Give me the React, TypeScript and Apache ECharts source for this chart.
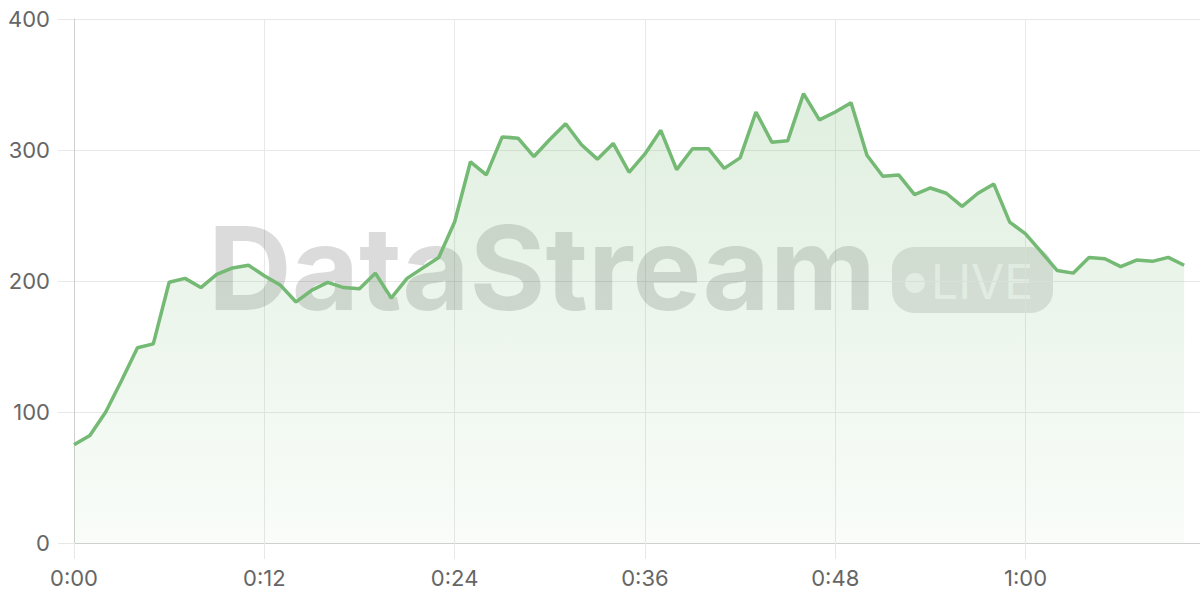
import { useEffect, useRef } from 'react';
import * as echarts from 'echarts';
import type { EChartsOption } from 'echarts';

// one reading per minute, 0:00 .. 1:10
const viewers = [
    75, 82, 100, 124, 149, 152, 199, 202, 195, 205,
    210, 212, 204, 197, 184, 193, 199, 195, 194, 206,
    187, 202, 210, 218, 245, 291, 281, 310, 309, 295,
    308, 320, 304, 293, 305, 283, 297, 315, 285, 301,
    301, 286, 294, 329, 306, 307, 343, 323, 329, 336,
    296, 280, 281, 266, 271, 267, 257, 267, 274, 245,
    236, 222, 208, 206, 218, 217, 211, 216, 215, 218,
    212
];

const X_MAX = 71;
const X_STEP = 12;
const Y_TICKS = [0, 100, 200, 300, 400];

const LINE_COLOR = '#74b974';
const GRID_COLOR = '#e8e8e8';
const AXIS_COLOR = '#cfcfcf';
const LABEL_COLOR = '#666';
const FONT = 'Inter, "Noto Sans", sans-serif';

const fmtMinute = (m: number) => {
    if (m % X_STEP !== 0) return '';
    const h = Math.floor(m / 60);
    const mm = m % 60;
    return `${h}:${mm < 10 ? '0' + mm : mm}`;
};

const App = () => {
    const chartRef = useRef<HTMLDivElement>(null);

    useEffect(() => {
        document.body.style.margin = '0';
        if (!chartRef.current) return;
        const chart = echarts.init(chartRef.current, undefined, { renderer: 'svg' });

        const option: EChartsOption = {
            animation: false,
            grid: { left: 74, right: 0, top: 19, bottom: 57 },
            xAxis: {
                type: 'value',
                min: 0,
                max: X_MAX,
                interval: X_STEP,
                axisLine: { show: true, lineStyle: { color: AXIS_COLOR, width: 1 } },
                axisTick: { show: true, length: 16, lineStyle: { color: GRID_COLOR } },
                splitLine: { show: true, lineStyle: { color: GRID_COLOR } },
                axisLabel: {
                    formatter: (v: number) => fmtMinute(v),
                    showMaxLabel: false,
                    color: LABEL_COLOR,
                    fontSize: 22,
                    fontFamily: FONT,
                    margin: 24
                }
            },
            yAxis: {
                type: 'value',
                min: Y_TICKS[0],
                max: Y_TICKS[Y_TICKS.length - 1],
                interval: 100,
                axisLine: { show: true, lineStyle: { color: AXIS_COLOR, width: 1 } },
                axisTick: { show: true, length: 16, lineStyle: { color: GRID_COLOR } },
                splitLine: { show: true, lineStyle: { color: GRID_COLOR } },
                axisLabel: {
                    color: LABEL_COLOR,
                    fontSize: 22,
                    fontFamily: FONT,
                    margin: 24
                }
            },
            graphic: [
                {
                    type: 'text',
                    z: 1,
                    silent: true,
                    left: 208,
                    top: 210,
                    style: {
                        text: 'DataStream',
                        font: `bold 116px ${FONT}`,
                        fill: 'rgba(0,0,0,0.14)'
                    }
                },
                {
                    type: 'group',
                    z: 1,
                    silent: true,
                    left: 892,
                    top: 247,
                    children: [
                        {
                            type: 'rect',
                            shape: { x: 0, y: 0, width: 161, height: 66, r: 22 },
                            style: { fill: 'rgba(0,0,0,0.11)' }
                        },
                        {
                            type: 'circle',
                            shape: { cx: 23, cy: 36, r: 10 },
                            style: { fill: 'rgba(255,255,255,0.65)' }
                        },
                        {
                            type: 'text',
                            x: 39,
                            y: 10,
                            style: {
                                text: 'LIVE',
                                font: `400 48px ${FONT}`,
                                fill: 'rgba(255,255,255,0.65)'
                            }
                        }
                    ]
                }
            ],
            series: [
                {
                    type: 'line',
                    z: 2,
                    data: viewers.map((v, i) => [i, v]),
                    showSymbol: false,
                    symbol: 'none',
                    lineStyle: { color: LINE_COLOR, width: 3.5 },
                    itemStyle: { color: LINE_COLOR },
                    areaStyle: {
                        color: new echarts.graphic.LinearGradient(0, 0, 0, 1, [
                            { offset: 0, color: 'rgba(116,185,116,0.32)' },
                            { offset: 1, color: 'rgba(116,185,116,0.06)' }
                        ])
                    }
                }
            ]
        };

        chart.setOption(option);
        const onResize = () => chart.resize();
        window.addEventListener('resize', onResize);
        return () => {
            window.removeEventListener('resize', onResize);
            chart.dispose();
        };
    }, []);

    return <div ref={chartRef} style={{ width: '1200px', height: '600px' }} />;
};

export default App;
